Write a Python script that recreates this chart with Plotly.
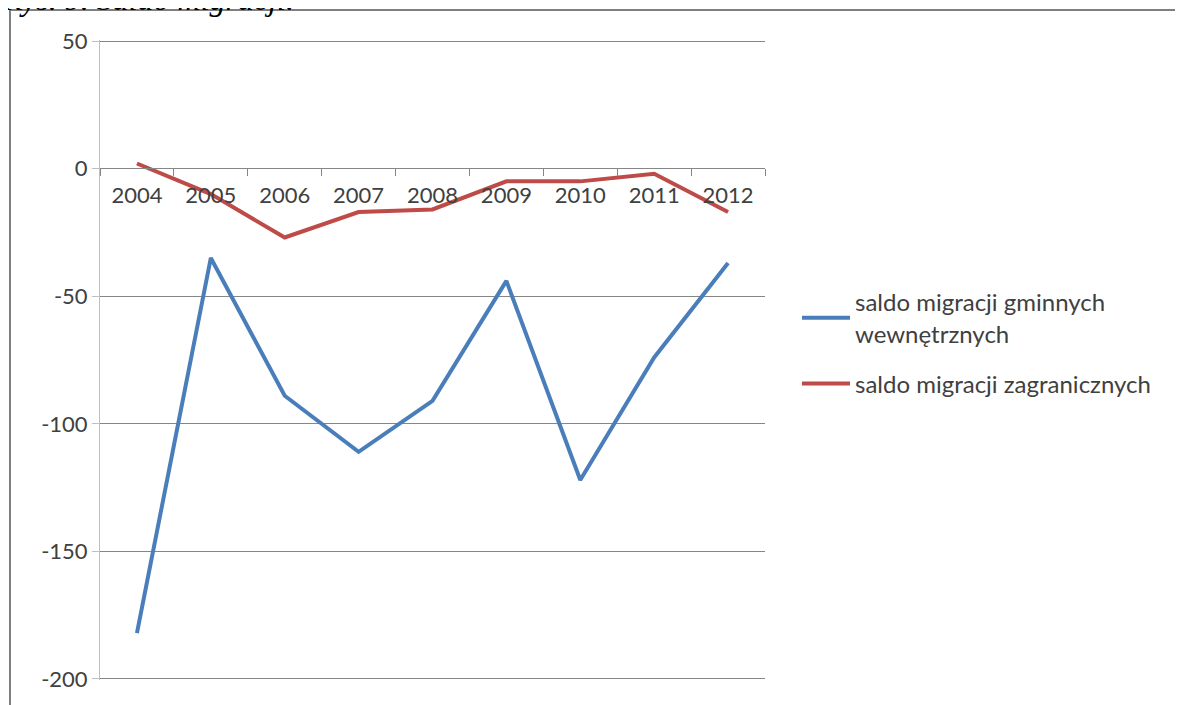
import plotly.graph_objects as go

years = ["2004", "2005", "2006", "2007", "2008", "2009", "2010", "2011", "2012"]
internal = [-182, -35, -89, -111, -91, -44, -122, -74, -37]
foreign = [2, -10, -27, -17, -16, -5, -5, -2, -17]
name_internal = "saldo migracji gminnych<br>wewnętrznych"
name_foreign = "saldo migracji zagranicznych"
y_ticks = [50, 0, -50, -100, -150, -200]
y_ticklabels = [str(v) for v in y_ticks]

FONT = "Lato, Carlito, 'Open Sans', sans-serif"
OFF = 8  # browser body margin

fig = go.Figure()
fig.add_trace(go.Scatter(x=years, y=internal, mode="lines", name=name_internal,
                         legendgroup="a", line=dict(color="#4A7EBB", width=4)))
fig.add_trace(go.Scatter(x=years, y=foreign, mode="lines", name=name_foreign,
                         legendgroup="b", line=dict(color="#BE4B48", width=4)))

W, H = 1183 - OFF, 705 - OFF
L, T = 100 - OFF, 40 - OFF
PR, PB = 765 - OFF, 680 - OFF
R, B = W - PR, H - PB
pw, ph = PR - L, PB - T

def px_x(x):
    return (x - OFF - L) / pw

def px_y(y):
    return (PB - (y - OFF)) / ph

fig.update_layout(
    width=W, height=H,
    margin=dict(l=L, r=R, t=T, b=B, autoexpand=False),
    paper_bgcolor="white", plot_bgcolor="white",
    font=dict(family=FONT, size=22, color="#404040"),
    showlegend=True,
    legend=dict(x=px_x(797), y=px_y(280), xanchor="left", yanchor="top",
                font=dict(family=FONT, size=24, color="#404040"),
                bgcolor="rgba(0,0,0,0)", tracegroupgap=16, itemwidth=48),
    xaxis=dict(type="category", range=[-0.5, 8.5], anchor="free", position=px_y(168),
               showline=True, linecolor="#868686", linewidth=1,
               ticks="outside", tickson="boundaries", ticklen=7, tickcolor="#868686",
               ticklabelstandoff=8,
               showgrid=False, zeroline=False, automargin=False,
               tickfont=dict(family=FONT, size=22, color="#404040")),
    yaxis=dict(range=[-200.4, 50.4], tickvals=y_ticks, ticktext=y_ticklabels,
               showgrid=True, gridcolor="#868686",
               gridwidth=1, zeroline=False, showline=True, linecolor="#BFBFBF",
               ticks="outside", ticklen=7, tickcolor="#BFBFBF", automargin=False,
               tickfont=dict(family=FONT, size=22, color="#404040")),
)

fig.add_shape(type="rect", xref="paper", yref="paper",
              x0=px_x(10), x1=px_x(1180), y0=px_y(10), y1=px_y(730),
              line=dict(color="#7F7F7F", width=2), fillcolor="rgba(0,0,0,0)", layer="below")

fig.add_annotation(text="<i>Rys. 9. Saldo migracji.</i>", xref="paper", yref="paper",
                   x=px_x(0), y=px_y(19), xanchor="left", yanchor="bottom", showarrow=False,
                   font=dict(family="Liberation Serif, serif", size=32, color="black"))

fig.write_html("out.html")
